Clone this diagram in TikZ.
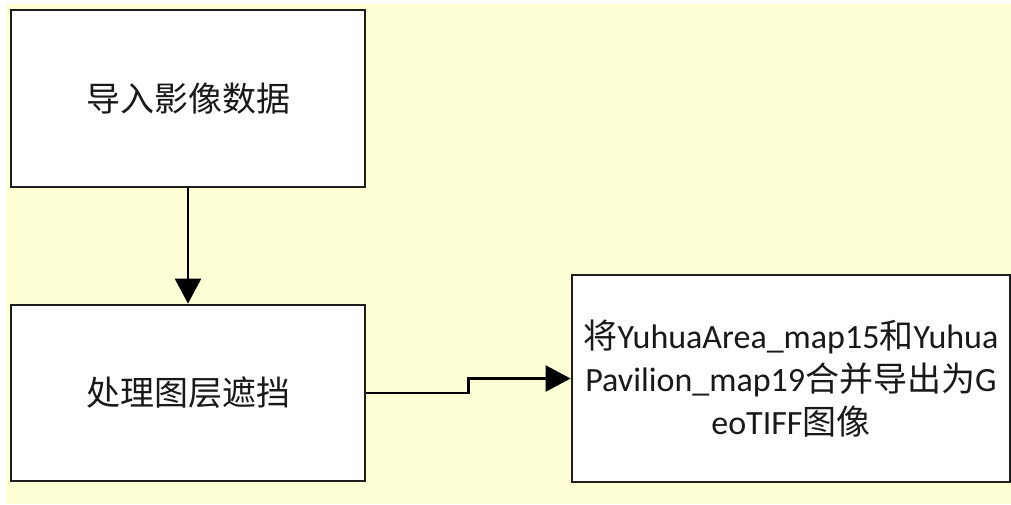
\documentclass[tikz,border=0pt]{standalone}
\usepackage{fontspec}
\setmainfont{Carlito}
\newfontfamily\cjkf{Noto Sans CJK SC}
\newcommand\zh[1]{{\cjkf #1}}
\usetikzlibrary{arrows.meta}
\definecolor{bgyellow}{RGB}{255,255,214}
\definecolor{edge}{RGB}{30,30,30}
\tikzset{
  procbox/.style={draw=edge, line width=2.8pt, fill=white, rectangle, inner sep=0pt,
    font=\fontsize{34}{43}\selectfont, text=black!90, align=center},
  flow/.style={draw=black, line width=2.6pt,
    -{Triangle[length=25pt,width=26pt]}}
}
\begin{document}
\begin{tikzpicture}[x=1pt,y=-1pt]
\useasboundingbox (0,0) rectangle (1011,504);
\fill[bgyellow] (6,4) rectangle (1011,504);
\node[procbox, minimum width=354pt, minimum height=177pt] (b1) at (188,98.5) {\zh{导入影像数据}};
\node[procbox, minimum width=354pt, minimum height=176pt] (b2) at (188,393) {\zh{处理图层遮挡}};
\node[procbox, minimum width=438pt, minimum height=207pt] (b3) at (791,378.5)
  {\zh{将}YuhuaArea\_map15\zh{和}Yuhua\\Pavilion\_map19\zh{合并导出为}G\\eoTIFF\zh{图像}};
\draw[flow] (b1.south) -- (b2.north);
\draw[flow] (b2.east) -- ++(102,0) |- (b3.west);
\end{tikzpicture}
\end{document}
